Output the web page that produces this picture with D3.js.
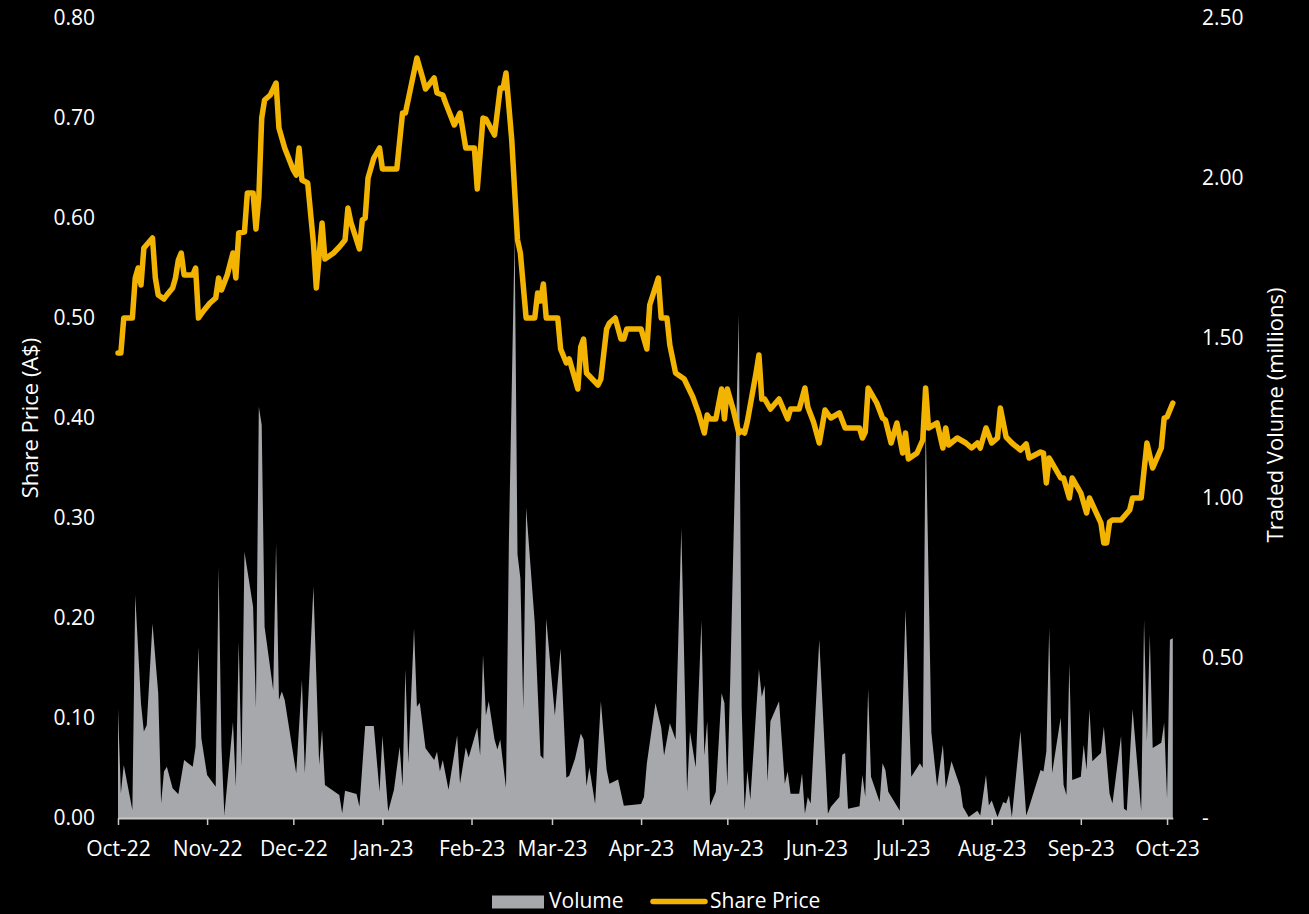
<!DOCTYPE html>
<html>
<head>
<meta charset="utf-8">
<script src="https://cdn.jsdelivr.net/npm/d3@7"></script>
<style>
  html, body { margin: 0; padding: 0; background: #000; }
  svg { display: block; }
  text { font-family: "Open Sans", "Noto Sans", sans-serif; fill: #fff; }
</style>
</head>
<body>
<svg id="chart" width="1309" height="914"></svg>
<script>
// Share price (A$) by date
const priceDates = [
  "2022-10-01","2022-10-02","2022-10-03","2022-10-06","2022-10-07","2022-10-08","2022-10-09","2022-10-10","2022-10-13","2022-10-14","2022-10-15","2022-10-17","2022-10-18","2022-10-20","2022-10-21","2022-10-22","2022-10-23","2022-10-24","2022-10-27","2022-10-28","2022-10-29","2022-10-31",
  "2022-11-02","2022-11-04","2022-11-05","2022-11-06","2022-11-08","2022-11-10","2022-11-11","2022-11-12","2022-11-14","2022-11-15","2022-11-17","2022-11-18","2022-11-19","2022-11-20","2022-11-21","2022-11-23","2022-11-25","2022-11-26","2022-11-28",
  "2022-12-01","2022-12-02","2022-12-03","2022-12-04","2022-12-06","2022-12-08","2022-12-09","2022-12-11","2022-12-12","2022-12-15","2022-12-17","2022-12-19","2022-12-20","2022-12-21","2022-12-24","2022-12-25","2022-12-26","2022-12-27","2022-12-29","2022-12-31",
  "2023-01-01","2023-01-06","2023-01-08","2023-01-09","2023-01-13","2023-01-15","2023-01-16","2023-01-19","2023-01-20","2023-01-22","2023-01-23","2023-01-26","2023-01-28","2023-01-30",
  "2023-02-02","2023-02-03","2023-02-05","2023-02-06","2023-02-09","2023-02-11","2023-02-12","2023-02-13","2023-02-15","2023-02-17","2023-02-18","2023-02-20","2023-02-23","2023-02-24","2023-02-25","2023-02-26","2023-02-27",
  "2023-03-03","2023-03-04","2023-03-06","2023-03-07","2023-03-10","2023-03-11","2023-03-12","2023-03-13","2023-03-17","2023-03-18","2023-03-20","2023-03-21","2023-03-23","2023-03-25","2023-03-26","2023-03-27",
  "2023-04-01","2023-04-03","2023-04-04","2023-04-07","2023-04-08","2023-04-10","2023-04-11","2023-04-13","2023-04-16","2023-04-19","2023-04-21","2023-04-23","2023-04-24","2023-04-25","2023-04-27","2023-04-29","2023-04-30",
  "2023-05-01","2023-05-03","2023-05-05","2023-05-06","2023-05-07","2023-05-08","2023-05-11","2023-05-12","2023-05-13","2023-05-14","2023-05-16","2023-05-19","2023-05-22","2023-05-23","2023-05-26","2023-05-28","2023-05-29","2023-05-31",
  "2023-06-02","2023-06-04","2023-06-06","2023-06-09","2023-06-11","2023-06-16","2023-06-17","2023-06-18","2023-06-19","2023-06-22","2023-06-24","2023-06-25","2023-06-27","2023-06-29",
  "2023-07-01","2023-07-02","2023-07-03","2023-07-06","2023-07-08","2023-07-09","2023-07-10","2023-07-13","2023-07-15","2023-07-16","2023-07-17","2023-07-20","2023-07-23","2023-07-25","2023-07-27","2023-07-28","2023-07-30",
  "2023-08-01","2023-08-03","2023-08-04","2023-08-06","2023-08-08","2023-08-11","2023-08-13","2023-08-14","2023-08-18","2023-08-19","2023-08-20","2023-08-21","2023-08-25","2023-08-26","2023-08-28","2023-08-29",
  "2023-09-01","2023-09-03","2023-09-04","2023-09-08","2023-09-09","2023-09-10","2023-09-11","2023-09-12","2023-09-15","2023-09-18","2023-09-19","2023-09-22","2023-09-24","2023-09-26","2023-09-29","2023-09-30",
  "2023-10-01","2023-10-03"
];
const priceValues = [
  0.465,0.465,0.50,0.50,0.54,0.55,0.533,0.57,0.58,0.54,0.523,0.519,0.523,0.53,0.54,0.558,0.565,0.543,0.543,0.55,0.50,0.508,
  0.515,0.52,0.54,0.528,0.543,0.565,0.54,0.585,0.586,0.625,0.625,0.589,0.621,0.70,0.718,0.723,0.735,0.69,0.67,
  0.648,0.643,0.67,0.638,0.635,0.575,0.53,0.595,0.559,0.565,0.571,0.578,0.61,0.596,0.569,0.598,0.60,0.64,0.66,0.67,
  0.649,0.649,0.705,0.705,0.76,0.74,0.729,0.74,0.725,0.723,0.715,0.693,0.705,0.67,
  0.67,0.629,0.70,0.699,0.683,0.73,0.73,0.745,0.678,0.578,0.565,0.50,0.50,0.525,0.517,0.534,0.50,
  0.50,0.469,0.455,0.459,0.429,0.471,0.479,0.445,0.433,0.439,0.489,0.495,0.50,0.479,0.479,0.489,
  0.489,0.469,0.513,0.54,0.50,0.50,0.473,0.445,0.439,0.421,0.405,0.385,0.403,0.399,0.399,0.429,0.399,
  0.429,0.409,0.385,0.387,0.385,0.397,0.445,0.463,0.419,0.419,0.409,0.419,0.399,0.409,0.409,0.43,0.411,0.396,
  0.375,0.408,0.40,0.405,0.39,0.39,0.38,0.386,0.43,0.415,0.40,0.398,0.375,0.395,
  0.365,0.385,0.359,0.365,0.378,0.43,0.39,0.395,0.37,0.39,0.373,0.38,0.375,0.37,0.375,0.37,0.39,
  0.375,0.38,0.41,0.381,0.375,0.368,0.374,0.36,0.366,0.365,0.335,0.36,0.34,0.34,0.32,0.34,
  0.325,0.305,0.32,0.295,0.275,0.275,0.296,0.298,0.298,0.308,0.32,0.32,0.375,0.35,0.37,0.40,
  0.401,0.415
];

// Traded volume (millions) by date
const volumeDates = [
  "2022-10-01","2022-10-02","2022-10-03","2022-10-06","2022-10-07","2022-10-09","2022-10-10","2022-10-11","2022-10-13","2022-10-15","2022-10-16","2022-10-17","2022-10-18","2022-10-20","2022-10-22","2022-10-24","2022-10-27","2022-10-28","2022-10-29","2022-10-30",
  "2022-11-01","2022-11-04","2022-11-05","2022-11-06","2022-11-07","2022-11-10","2022-11-11","2022-11-12","2022-11-13","2022-11-14","2022-11-17","2022-11-18","2022-11-19","2022-11-20","2022-11-21","2022-11-24","2022-11-25","2022-11-26","2022-11-27","2022-11-28",
  "2022-12-02","2022-12-04","2022-12-05","2022-12-08","2022-12-10","2022-12-11","2022-12-12","2022-12-17","2022-12-18","2022-12-19","2022-12-23","2022-12-24","2022-12-26","2022-12-29","2022-12-31",
  "2023-01-01","2023-01-03","2023-01-05","2023-01-07","2023-01-08","2023-01-09","2023-01-10","2023-01-12","2023-01-13","2023-01-14","2023-01-16","2023-01-19","2023-01-20","2023-01-21","2023-01-22","2023-01-24","2023-01-27","2023-01-28","2023-01-30","2023-01-31",
  "2023-02-03","2023-02-04","2023-02-05","2023-02-06","2023-02-07","2023-02-09","2023-02-10","2023-02-11","2023-02-13","2023-02-14","2023-02-16","2023-02-17","2023-02-18","2023-02-19","2023-02-20","2023-02-23","2023-02-25","2023-02-26","2023-02-27",
  "2023-03-02","2023-03-04","2023-03-06","2023-03-07","2023-03-09","2023-03-11","2023-03-12","2023-03-13","2023-03-14","2023-03-16","2023-03-18","2023-03-20","2023-03-21","2023-03-24","2023-03-26",
  "2023-04-01","2023-04-02","2023-04-03","2023-04-06","2023-04-08","2023-04-09","2023-04-11","2023-04-13","2023-04-15","2023-04-17","2023-04-18","2023-04-20","2023-04-22","2023-04-23","2023-04-24","2023-04-25","2023-04-27","2023-04-29","2023-04-30",
  "2023-05-01","2023-05-02","2023-05-05","2023-05-06","2023-05-07","2023-05-08","2023-05-09","2023-05-12","2023-05-13","2023-05-14","2023-05-15","2023-05-16","2023-05-19","2023-05-21","2023-05-22","2023-05-23","2023-05-26","2023-05-27","2023-05-28","2023-05-29","2023-05-30",
  "2023-06-02","2023-06-05","2023-06-06","2023-06-09","2023-06-10","2023-06-11","2023-06-12","2023-06-16","2023-06-17","2023-06-18","2023-06-19","2023-06-20","2023-06-23","2023-06-24","2023-06-25","2023-06-26","2023-06-30",
  "2023-07-02","2023-07-04","2023-07-07","2023-07-08","2023-07-09","2023-07-11","2023-07-13","2023-07-15","2023-07-16","2023-07-18","2023-07-21","2023-07-22","2023-07-24","2023-07-27","2023-07-28","2023-07-30","2023-07-31",
  "2023-08-01","2023-08-03","2023-08-05","2023-08-06","2023-08-07","2023-08-08","2023-08-11","2023-08-13","2023-08-14","2023-08-18","2023-08-19","2023-08-20","2023-08-21","2023-08-22","2023-08-25","2023-08-26","2023-08-27","2023-08-28","2023-08-29",
  "2023-09-01","2023-09-02","2023-09-03","2023-09-04","2023-09-05","2023-09-08","2023-09-09","2023-09-11","2023-09-12","2023-09-15","2023-09-16","2023-09-17","2023-09-19","2023-09-22","2023-09-23","2023-09-24","2023-09-25","2023-09-26","2023-09-29","2023-09-30",
  "2023-10-01","2023-10-02","2023-10-03"
];
const volumeValues = [
  0.343,0.077,0.166,0.025,0.697,0.358,0.27,0.29,0.608,0.39,0.046,0.145,0.16,0.093,0.074,0.181,0.16,0.223,0.535,0.249,
  0.134,0.098,0.785,0.223,0.009,0.30,0.098,0.55,0.16,0.832,0.66,0.343,1.285,1.228,0.598,0.40,0.858,0.369,0.395,0.369,
  0.14,0.431,0.14,0.723,0.166,0.275,0.103,0.072,0.015,0.085,0.075,0.035,0.2875,0.2875,0.082,
  0.256,0.02,0.0875,0.223,0.098,0.465,0.171,0.593,0.348,0.36,0.218,0.181,0.207,0.145,0.181,0.088,0.258,0.107,0.22,0.189,
  0.283,0.195,0.51,0.32,0.365,0.245,0.214,0.245,0.094,0.862,1.82,0.824,0.749,0.34,0.97,0.61,0.195,0.185,0.623,
  0.32,0.53,0.126,0.132,0.185,0.264,0.245,0.10,0.158,0.044,0.365,0.151,0.107,0.12,0.038,
  0.044,0.066,0.17,0.359,0.283,0.195,0.296,0.245,0.906,0.082,0.27,0.158,0.617,0.195,0.302,0.038,0.082,0.39,0.359,
  0.10,0.422,1.573,0.346,0.026,0.148,0.057,0.466,0.378,0.415,0.113,0.302,0.365,0.107,0.145,0.076,0.076,0.14,0.013,0.066,0.045,
  0.557,0.013,0.034,0.066,0.198,0.203,0.029,0.037,0.134,0.066,0.404,0.129,0.05,0.171,0.15,0.082,0.023,
  0.652,0.129,0.171,0.156,1.25,0.267,0.098,0.229,0.092,0.177,0.098,0.034,0.003,0.023,0.008,0.134,0.039,
  0.055,0.003,0.05,0.045,0.071,0.003,0.272,0.008,0.034,0.15,0.145,0.208,0.594,0.14,0.314,0.103,0.071,0.483,0.119,
  0.129,0.229,0.15,0.34,0.177,0.203,0.286,0.076,0.045,0.256,0.029,0.023,0.34,0.023,0.62,0.24,0.573,0.219,0.235,0.298,
  0.06,0.557,0.562
];

// Axis ticks
const priceTicks = [0, 0.1, 0.2, 0.3, 0.4, 0.5, 0.6, 0.7, 0.8];
const volumeTicks = [0, 0.5, 1.0, 1.5, 2.0, 2.5];
const dateDomain = ["2022-10-01", "2023-10-03"];

const parse = d3.timeParse("%Y-%m-%d");
const priceData = priceDates.map((d, i) => ({ date: parse(d), value: priceValues[i] }));
const volumeData = volumeDates.map((d, i) => ({ date: parse(d), value: volumeValues[i] }));

const plot = { left: 118, right: 1172.8, top: 18, bottom: 818 };
const svg = d3.select("#chart");
svg.append("rect").attr("width", 1309).attr("height", 914).attr("fill", "#000");

const x = d3.scaleTime().domain(dateDomain.map(parse)).range([plot.left, plot.right]);
const yPrice = d3.scaleLinear().domain([0, 0.8]).range([plot.bottom, plot.top]);
const yVol = d3.scaleLinear().domain([0, 2.5]).range([plot.bottom, plot.top]);

const GREY = "#a7a8ac";
const GOLD = "#f2b400";

// Volume area
svg.append("path")
  .datum(volumeData)
  .attr("fill", GREY)
  .attr("d", d3.area().x(d => x(d.date)).y0(yVol(0)).y1(d => yVol(d.value)));

// Share price line
svg.append("path")
  .datum(priceData)
  .attr("fill", "none")
  .attr("stroke", GOLD)
  .attr("stroke-width", 5.5)
  .attr("stroke-linejoin", "round")
  .attr("stroke-linecap", "round")
  .attr("d", d3.line().x(d => x(d.date)).y(d => yPrice(d.value)));

// Bottom date axis
const xAxis = svg.append("g")
  .attr("transform", `translate(0,${plot.bottom})`)
  .call(d3.axisBottom(x)
    .ticks(d3.timeMonth.every(1))
    .tickFormat(d3.timeFormat("%b-%y"))
    .tickSizeInner(7).tickSizeOuter(0).tickPadding(16));
xAxis.select(".domain").attr("stroke", "#c8c8c8").attr("stroke-width", 2);
xAxis.selectAll(".tick line").attr("stroke", "#c8c8c8").attr("stroke-width", 1.5);
xAxis.selectAll("text").attr("font-size", 21).attr("fill", "#fff")
  .style("font-family", '"Open Sans", sans-serif');

// Left price axis
const yAxisL = svg.append("g")
  .attr("transform", `translate(98,0)`)
  .call(d3.axisLeft(yPrice).tickValues(priceTicks).tickFormat(d3.format(".2f"))
    .tickSize(0).tickPadding(3));
yAxisL.select(".domain").remove();
yAxisL.selectAll("text").attr("font-size", 21).attr("fill", "#fff")
  .style("font-family", '"Open Sans", sans-serif');

// Right volume axis
const yAxisR = svg.append("g")
  .attr("transform", `translate(1199,0)`)
  .call(d3.axisRight(yVol).tickValues(volumeTicks)
    .tickFormat(d => d === 0 ? "-" : d3.format(".2f")(d))
    .tickSize(0).tickPadding(3));
yAxisR.select(".domain").remove();
yAxisR.selectAll("text").attr("font-size", 21).attr("fill", "#fff")
  .style("font-family", '"Open Sans", sans-serif');

// Axis titles
const midY = (plot.top + plot.bottom) / 2;
svg.append("text")
  .attr("transform", `translate(38,${midY}) rotate(-90)`)
  .attr("text-anchor", "middle")
  .attr("font-size", 22)
  .text("Share Price (A$)");
svg.append("text")
  .attr("transform", `translate(1283,${midY - 3}) rotate(-90)`)
  .attr("text-anchor", "middle")
  .attr("font-size", 22)
  .text("Traded Volume (millions)");

// Legend
const legend = svg.append("g").attr("font-size", 21);
legend.append("rect").attr("x", 492).attr("y", 895.5).attr("width", 52).attr("height", 13).attr("fill", GREY);
legend.append("text").attr("x", 549).attr("y", 908).text("Volume");
legend.append("line").attr("x1", 653).attr("x2", 705).attr("y1", 901.5).attr("y2", 901.5)
  .attr("stroke", GOLD).attr("stroke-width", 5.5).attr("stroke-linecap", "round");
legend.append("text").attr("x", 710).attr("y", 908).text("Share Price");
</script>
</body>
</html>
